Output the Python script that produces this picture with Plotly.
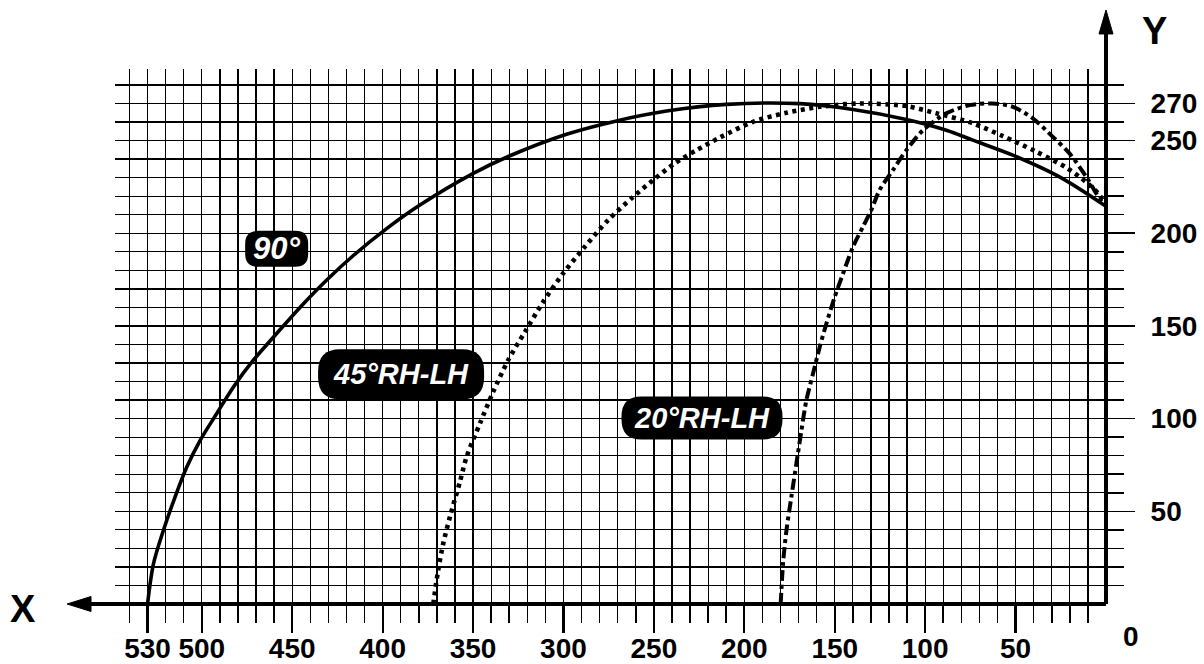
import plotly.graph_objects as go

# ---- data ----
x90 = [530, 526.7, 521.2, 514.8, 508.3, 500.9, 491.7, 482.5, 471.5, 458.6, 445.7, 430.9,
       416.2, 397.8, 379.4, 349.9, 329.6, 298.3, 270.7, 243.0, 209.9, 169.4, 139.9,
       110.4, 88.3, 73.6, 51.5, 25.7, 0]
y90 = [0, 21.8, 39.8, 57.7, 73.9, 88.3, 102.8, 117.1, 131.5, 145.9, 160.0, 174.8,
       188.0, 202.5, 215.2, 232.3, 241.8, 253.4, 260.6, 265.9, 269.5, 269.9, 266.8,
       261.4, 255.6, 250.2, 242.1, 230.4, 214.5]

x45 = [372.0, 369.3, 366.5, 362.8, 357.3, 353.6, 346.2, 338.9, 330.6, 321.3, 311.2, 300.2,
       288.2, 275.3, 261.5, 250.4, 238.5, 226.5, 213.6, 195.2, 176.7, 158.3, 136.2,
       110.4, 93.8, 73.6, 57.0, 38.6, 22.0, 10.9, 3.6, 1.0]
y45 = [0, 18.2, 32.6, 47.0, 65.8, 79.3, 97.4, 114.4, 131.5, 146.8, 163.0, 178.3,
       192.7, 207.1, 219.6, 228.7, 237.7, 244.8, 251.6, 260.1, 265.0, 268.2, 270.0,
       268.6, 264.7, 259.3, 252.4, 244.0, 235.4, 227.5, 220.6, 216.0]

x20 = [179.9, 178.6, 176.7, 174.0, 171.2, 168.4, 165.7, 162.0, 158.3, 154.6, 150.0, 145.4,
       139.9, 134.4, 129.8, 125.2, 117.8, 110.4, 101.2, 88.3, 75.4, 62.6, 51.5, 40.5,
       29.4, 20.2, 10.9, 5.4, 1.5]
y20 = [0, 21.8, 39.8, 57.7, 75.8, 93.7, 109.9, 124.3, 138.7, 151.3, 165.7, 178.3,
       192.7, 203.5, 212.5, 223.3, 234.1, 244.8, 255.6, 264.7, 269.1, 270.0, 268.2, 262.0,
       252.0, 243.1, 230.4, 221.5, 216.0]

x_tick_vals = [530, 500, 450, 400, 350, 300, 250, 200, 150, 100, 50]
x_tick_text = ["530", "500", "450", "400", "350", "300", "250", "200", "150", "100", "50"]
y_tick_vals = [50, 100, 150, 200, 250, 270]
y_tick_text = ["50", "100", "150", "200", "250", "270"]
x_grid_vals = list(range(10, 550, 10))
y_grid_vals = list(range(10, 290, 10))

curve_labels = ["90°", "45°RH-LH", "20°RH-LH"]

# ---- styling / placement ----
X_RANGE = [548, 0]
Y_RANGE = [0, 288.6]
label_pos = [(458.6, 191.6), (389.8, 124.0), (223.4, 100.4)]
label_box = [(63, 36, 13), (166, 50, 22), (161, 43, 20)]
label_size = [31, 29, 29]

FONT = "Liberation Sans Narrow, Arial, Liberation Sans, sans-serif"

fig = go.Figure()
fig.add_trace(go.Scatter(x=x90, y=y90, mode="lines",
                         line=dict(color="black", width=3.6, shape="spline", smoothing=0.9),
                         hoverinfo="skip", showlegend=False))
fig.add_trace(go.Scatter(x=x45, y=y45, mode="lines",
                         line=dict(color="black", width=4.6, shape="spline", smoothing=0.8,
                                   dash="4px,4.5px"),
                         hoverinfo="skip", showlegend=False))
fig.add_trace(go.Scatter(x=x20, y=y20, mode="lines",
                         line=dict(color="black", width=4.0, shape="spline", smoothing=0.8,
                                   dash="11px,4px,4px,4px"),
                         hoverinfo="skip", showlegend=False))


def rounded_path(w, h, r):
    a, b = w / 2, h / 2
    return (f"M {-a + r},{-b} L {a - r},{-b} Q {a},{-b} {a},{-b + r} "
            f"L {a},{b - r} Q {a},{b} {a - r},{b} L {-a + r},{b} Q {-a},{b} {-a},{b - r} "
            f"L {-a},{-b + r} Q {-a},{-b} {-a + r},{-b} Z")


shapes = []
annotations = []
for txt, (cx, cy), (w, h, r), fs in zip(curve_labels, label_pos, label_box, label_size):
    shapes.append(dict(type="path", xref="x", yref="y", xsizemode="pixel", ysizemode="pixel",
                       xanchor=cx, yanchor=cy, path=rounded_path(w, h, r),
                       fillcolor="black", line=dict(color="black", width=0), layer="above"))
    annotations.append(dict(x=cx, y=cy, xref="x", yref="y", text=f"<b><i>{txt}</i></b>",
                            showarrow=False, font=dict(family=FONT, size=fs, color="white"),
                            xanchor="center", yanchor="middle"))

# thick axes with arrows (paper coordinates)
shapes += [
    dict(type="line", xref="paper", yref="paper", x0=-0.035, x1=1.0, y0=0, y1=0,
         line=dict(color="black", width=4), layer="above"),
    dict(type="line", xref="paper", yref="paper", x0=1.0, x1=1.0, y0=0, y1=1.07,
         line=dict(color="black", width=4), layer="above"),
    dict(type="path", xref="paper", yref="paper",
         path="M -0.0484,0 L -0.0242,0.0140 L -0.0242,-0.0140 Z",
         fillcolor="black", line=dict(color="black", width=1), layer="above"),
    dict(type="path", xref="paper", yref="paper",
         path="M 1.0,1.1103 L 0.99294,1.0655 L 1.00706,1.0655 Z",
         fillcolor="black", line=dict(color="black", width=1), layer="above"),
]

annotations += [
    dict(x=-0.0930, y=0.0, xref="paper", yref="paper", text="<b>X</b>", showarrow=False,
         font=dict(family="Arial", size=38, color="black"), xanchor="center", yanchor="middle",
         yshift=-5),
    dict(x=1.0494, y=1.0713, xref="paper", yref="paper", text="<b>Y</b>", showarrow=False,
         font=dict(family="Arial", size=38, color="black"), xanchor="center", yanchor="middle"),
    dict(x=1.0255, y=0.0, xref="paper", yref="paper", text="<b>0</b>", showarrow=False,
         font=dict(family="Arial", size=28, color="black"), xanchor="center", yanchor="middle",
         yshift=-32),
]

fig.update_layout(
    width=1204, height=664,
    margin=dict(l=115, r=98, t=69, b=60, autoexpand=False),
    paper_bgcolor="white", plot_bgcolor="white",
    shapes=shapes, annotations=annotations,
    xaxis=dict(range=X_RANGE, tickmode="array", tickvals=x_tick_vals, ticktext=x_tick_text,
               ticks="outside", ticklen=28, tickwidth=2.2, tickcolor="black",
               showgrid=False,
               zeroline=False, showline=False, automargin=False,
               tickfont=dict(family="Arial", size=28, color="black", weight="bold"),
               ticklabelstandoff=-9,
               minor=dict(tickmode="array", tickvals=x_grid_vals, ticks="outside", ticklen=18,
                          tickwidth=1.5, tickcolor="black", showgrid=True,
                          gridcolor="black", gridwidth=1.3),
               fixedrange=True),
    yaxis=dict(range=Y_RANGE, side="right", tickmode="array", tickvals=y_tick_vals,
               ticktext=y_tick_text, ticks="outside", ticklen=28, tickwidth=1.5,
               tickcolor="black", showgrid=False,
               zeroline=False, showline=False, automargin=False,
               tickfont=dict(family="Arial", size=28, color="black", weight="bold"),
               ticklabelstandoff=10,
               minor=dict(tickmode="array", tickvals=y_grid_vals, ticks="outside", ticklen=17,
                          tickwidth=1.5, tickcolor="black", showgrid=True,
                          gridcolor="black", gridwidth=1.3),
               fixedrange=True),
)

fig.write_html("out.html", config={"displayModeBar": False, "staticPlot": True},
               post_script="document.body.style.margin='0';document.body.style.overflow='hidden';")
